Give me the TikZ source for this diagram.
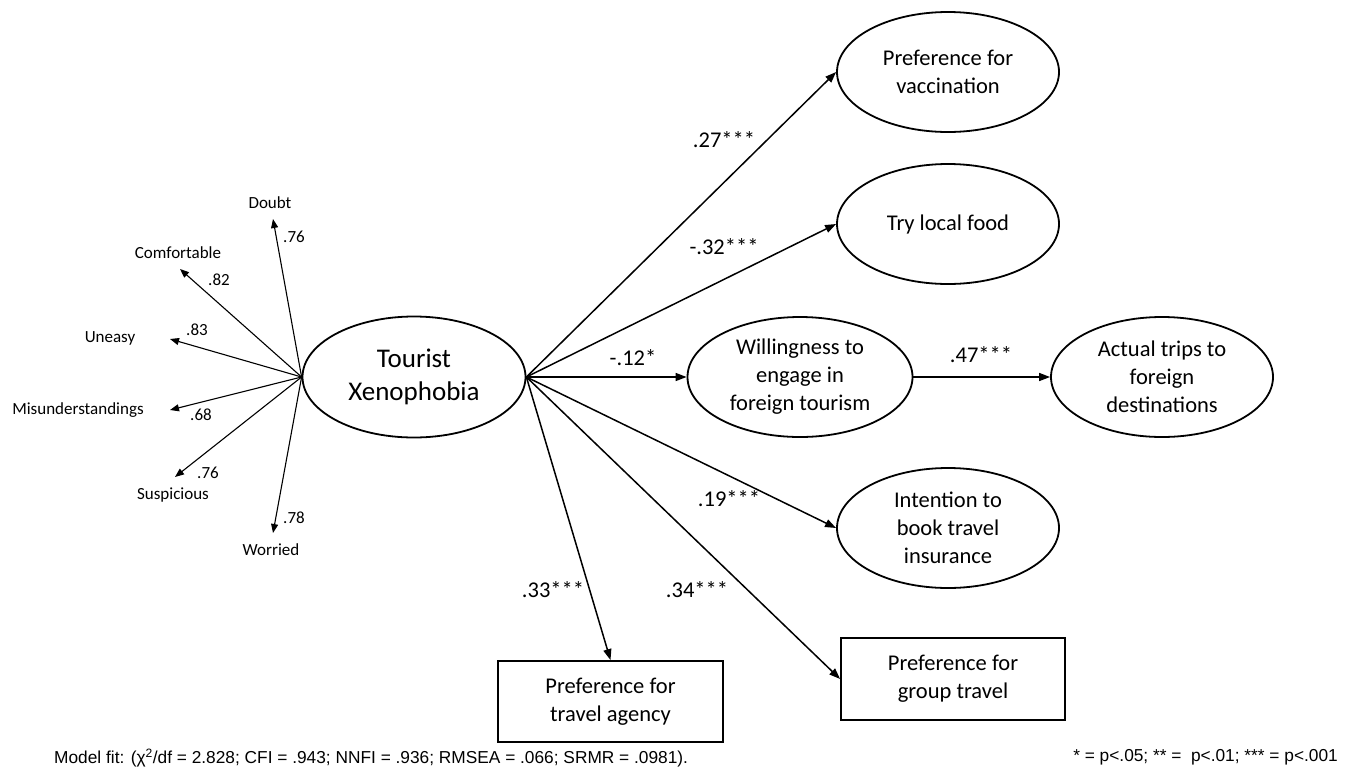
\documentclass[tikz,border=0pt]{standalone}
\usepackage{fontspec}
\setmainfont{Carlito}
\newfontfamily\arialf{Liberation Sans}
\usetikzlibrary{shapes.geometric,arrows.meta}
\begin{document}
\begin{tikzpicture}[x=1pt,y=-1pt,
  ell/.style={draw,ellipse,line width=1.8pt,minimum width=222pt,minimum height=120pt,inner sep=0pt,align=center,font=\fontsize{22.5}{28}\selectfont},
  boxn/.style={draw,rectangle,line width=1.8pt,minimum width=224pt,minimum height=81pt,inner sep=0pt,align=center,font=\fontsize{22.5}{28}\selectfont},
  pth/.style={line width=1.5pt,-{Triangle[length=11pt,width=8pt]}},
  ind/.style={line width=1.1pt,-{Triangle[length=9pt,width=7pt]}},
  lbl/.style={font=\fontsize{22.5}{27}\selectfont,inner sep=0pt},
  itxt/.style={font=\fontsize{17}{20}\selectfont,inner sep=0pt},
  foot/.style={font=\arialf\fontsize{17.3}{20}\selectfont,inner sep=0pt}
]
\useasboundingbox (0,0) rectangle (1357,769);

% latent variables
\node[ell,minimum width=223pt,minimum height=121pt,font=\fontsize{27}{33}\selectfont] (tx) at (414,377) {Tourist\\Xenophobia};
\node[ell] (vac) at (948,72) {Preference for\\vaccination};
\node[ell] (food) at (948,224) {Try local food};
\node[ell,minimum width=225pt] (will) at (800,377) {Willingness to\\engage in\\foreign tourism};
\node[ell] (act) at (1162,377) {Actual trips to\\foreign\\destinations};
\node[ell] (ins) at (948,528) {Intention to\\book travel\\insurance};
\node[boxn,minimum height=82pt] (grp) at (953,679) {Preference for\\group travel};
\node[boxn,minimum width=225pt] (agn) at (610.5,701.5) {Preference for\\travel agency};

% structural paths
\draw[pth] (tx.east) -- (vac.west);
\draw[pth] (tx.east) -- (food.west);
\draw[pth] (tx.east) -- (will.west);
\draw[pth] (will.east) -- (act.west);
\draw[pth] (tx.east) -- (ins.west);
\draw[pth] (tx.east) -- (grp.west);
\draw[pth] (tx.east) -- (agn.north);

\node[lbl] (l1) at (724,140) {.27***};
\node[lbl] (l2) at (724,247) {-.32***};
\node[lbl] (l3) at (633,358) {-.12*};
\node[lbl] (l4) at (981,355) {.47***};
\node[lbl] (l5) at (729,499) {.19***};
\node[lbl] (l6) at (697,590) {.34***};
\node[lbl] (l7) at (553,590) {.33***};

% indicators
\coordinate (cdbt) at (273,219);
\coordinate (ccmf) at (180,269);
\coordinate (cune) at (170,339);
\coordinate (cmis) at (170,410);
\coordinate (csus) at (175,477);
\coordinate (cwor) at (273,533);
\draw[ind] (tx.west) -- (cdbt);
\draw[ind] (tx.west) -- (ccmf);
\draw[ind] (tx.west) -- (cune);
\draw[ind] (tx.west) -- (cmis);
\draw[ind] (tx.west) -- (csus);
\draw[ind] (tx.west) -- (cwor);

\node[itxt] (tdbt) at (270,203) {Doubt};
\node[itxt] (tcmf) at (178,253) {Comfortable};
\node[itxt] (tune) at (110,338) {Uneasy};
\node[itxt] (tmis) at (78,410) {Misunderstandings};
\node[itxt] (tsus) at (173,495) {Suspicious};
\node[itxt] (twor) at (271,550) {Worried};

\node[itxt] (vdbt) at (294,237) {.76};
\node[itxt] (vcmf) at (219,280) {.82};
\node[itxt] (vune) at (197,330) {.83};
\node[itxt] (vmis) at (201,415) {.68};
\node[itxt] (vsus) at (208,473) {.76};
\node[itxt] (vwor) at (294,518) {.78};

% footers
\node[foot,anchor=west] (fit) at (54,758) {Model fit: (χ\textsuperscript{2}/df = 2.828; CFI = .943; NNFI = .936; RMSEA = .066; SRMR = .0981).};
\node[foot,anchor=east] (sig) at (1338,757) {* = p<.05; ** =\ \ p<.01; *** = p<.001};
\end{tikzpicture}
\end{document}
